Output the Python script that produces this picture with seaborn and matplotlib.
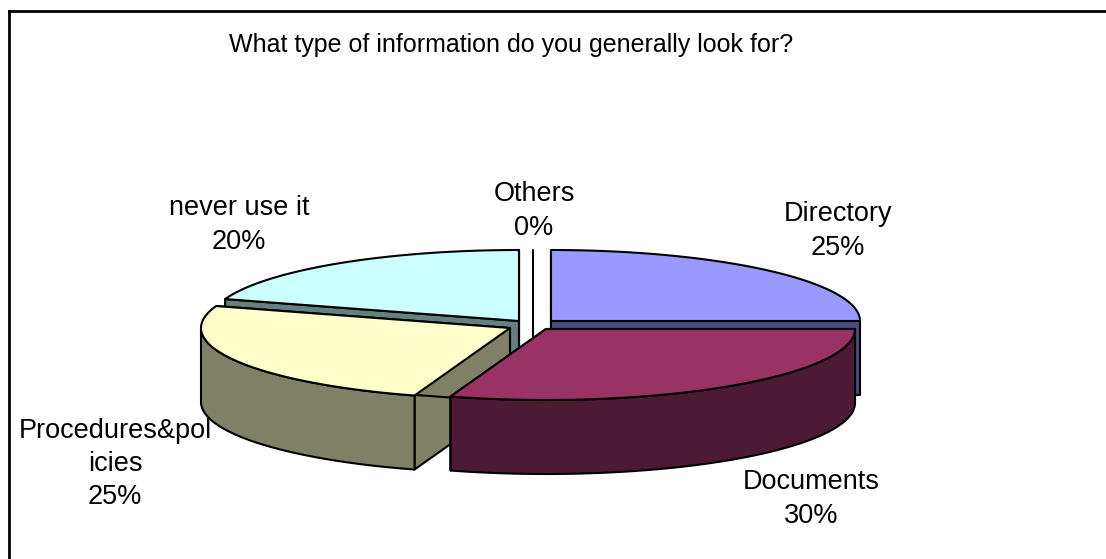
import numpy as np
import matplotlib
matplotlib.use("Agg")
import matplotlib.pyplot as plt
import seaborn as sns

# values
labels = ["Directory", "Documents", "Procedures&pol\nicies", "never use it", "Others"]
shares = [25, 30, 25, 20, 0]
top_colors = ["#9999FF", "#993366", "#FFFFCC", "#CCFFFF", "#660066"]
side_colors = ["#4C4C80", "#4D1A33", "#808066", "#668080", "#330033"]

# pixel layout
W, H = 1106, 559
RX, RY = 309, 71
DEPTH = 74
LW = 1.5
# where each slice apex ended up after exploding
apex = [(551, 321), (546, 329), (510, 328), (519, 321), (533, 321)]
label_xy = [(838, 231), (811, 499), (115, 464), (239, 225), (534, 211)]

sns.set_theme(style="white")
plt.rcParams["font.family"] = ["Liberation Sans", "DejaVu Sans"]

fig = plt.figure(figsize=(W / 100, H / 100), dpi=100)
ax = fig.add_axes([0, 0, 1, 1])
ax.set_xlim(0, W)
ax.set_ylim(H, 0)
ax.axis("off")


def rim(cx, cy, a0, a1):
    t = np.radians(np.linspace(a0, a1, 80))
    return cx + RX * np.sin(t), cy - RY * np.cos(t)


edges = np.cumsum([0] + shares) * 3.6
# back slices first
order = [3, 0, 2, 1]
for z, i in enumerate(order):
    cx, cy = apex[i]
    a0, a1 = edges[i], edges[i + 1]
    style = dict(edgecolor="black", lw=LW, zorder=z + 1, joinstyle="round")
    # cut faces
    for ang in (a0, a1):
        ex, ey = rim(cx, cy, ang, ang)
        ex, ey = ex[0], ey[0]
        ax.fill([cx, ex, ex, cx], [cy, ey, ey + DEPTH, cy + DEPTH],
                facecolor=side_colors[i], **style)
    # outer wall, only the part that faces the viewer
    w0, w1 = max(a0, 90), min(a1, 270)
    if w1 > w0:
        x, y = rim(cx, cy, w0, w1)
        ax.fill(np.r_[x, x[::-1]], np.r_[y, y[::-1] + DEPTH],
                facecolor=side_colors[i], **style)
    x, y = rim(cx, cy, a0, a1)
    ax.fill(np.r_[cx, x], np.r_[cy, y], facecolor=top_colors[i], **style)

# Others slice has no area, only a line
ox, oy = apex[4]
ax.plot([ox, ox], [oy - RY, oy + DEPTH], color="black", lw=LW, zorder=0)

for name, val, (lx, ly) in zip(labels, shares, label_xy):
    ax.text(lx, ly, f"{name}\n{val}%", ha="center", va="center", fontsize=19.5,
            color="black", linespacing=1.36, zorder=10)

ax.text(511, 45, "What type of information do you generally look for?", ha="center", va="center",
        fontsize=18, color="black", zorder=10)

# chart area border
ax.plot([8.7, 8.7], [558, 10.5], color="black", lw=2, zorder=11, solid_capstyle="projecting")
ax.plot([8.7, W], [10.5, 10.5], color="black", lw=2, zorder=11)

fig.savefig("out.png", dpi=100, facecolor="white")
